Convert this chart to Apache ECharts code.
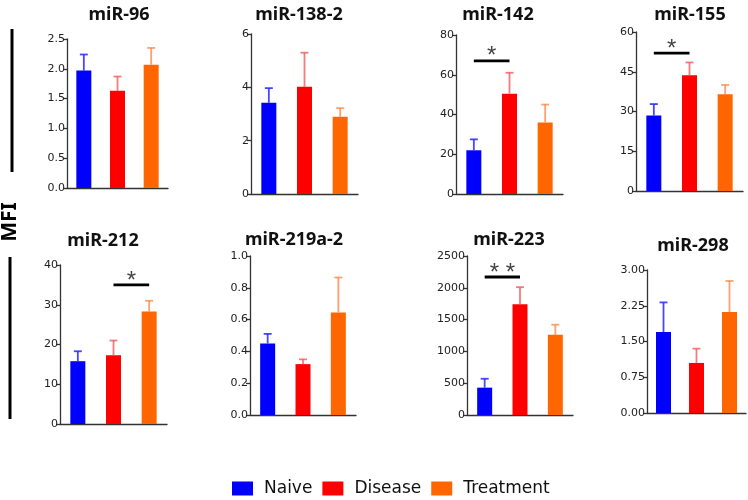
<!DOCTYPE html>
<html><head><meta charset="utf-8">
<script src="https://cdn.jsdelivr.net/npm/echarts@6/dist/echarts.min.js"></script>
<style>html,body{margin:0;padding:0;background:#fff}#c{width:748px;height:500px}</style>
</head><body><div id="c"></div>
<script>
const panels = ['miR-96','miR-138-2','miR-142','miR-155','miR-212','miR-219a-2','miR-223','miR-298'];
const groups = ['Naive','Disease','Treatment'];
const naive = [1.97, 3.42, 22, 28.5, 15.8, 0.45, 430, 1.70];
const disease = [1.63, 4.02, 50.5, 43.7, 17.3, 0.32, 1740, 1.05];
const treatment = [2.07, 2.90, 36, 36.5, 28.3, 0.645, 1260, 2.12];
const naiveErr = [2.24, 3.97, 27.5, 32.8, 18.3, 0.51, 570, 2.32];
const diseaseErr = [1.87, 5.30, 61, 48.5, 21, 0.35, 2010, 1.35];
const treatmentErr = [2.35, 3.22, 45, 40, 31, 0.865, 1420, 2.77];
const yMax = [2.5, 6, 80, 60, 40, 1.0, 2500, 3.0];
const yStep = [0.5, 2, 20, 15, 10, 0.2, 500, 0.75];
const yDecimals = [1, 0, 0, 0, 0, 1, 0, 2];
// significance brackets (panel index, from group, to group, height, label)
const sigPanel = [2, 3, 4, 6];
const sigFrom = [0, 0, 1, 0];
const sigTo = [1, 1, 2, 1];
const sigY = [67, 52, 35, 2170];
const sigText = ['*', '*', '*', '* *'];

const colors = ['#0000ff', '#ff0000', '#ff6600'];
const errColors = ['rgba(40,40,255,0.85)', 'rgba(240,80,80,0.75)', 'rgba(255,130,60,0.75)'];
const means = [naive, disease, treatment];
const errs = [naiveErr, diseaseErr, treatmentErr];

// layout (px)
const gridBox = [
  [67, 39, 101, 149], [251, 34, 107, 160], [456, 35, 107, 159], [636, 32, 107, 159],
  [60, 265, 107, 159], [250, 256, 106, 159], [467, 256, 106, 159], [647, 270, 99, 143]
];
const titlePos = [[119, 6], [299, 6], [498, 6], [690, 6], [103, 232], [294, 231], [509, 231], [693, 237]];

const grid = [], xAxis = [], yAxis = [], series = [], title = [];
panels.forEach((name, i) => {
  const b = gridBox[i];
  grid.push({left: b[0], top: b[1], width: b[2], height: b[3], containLabel: false});
  xAxis.push({type: 'category', gridIndex: i, data: groups, boundaryGap: true,
    axisLine: {lineStyle: {color: '#333', width: 1.3}}, axisTick: {show: false}, axisLabel: {show: false}});
  yAxis.push({type: 'value', gridIndex: i, min: 0, max: yMax[i], interval: yStep[i],
    splitLine: {show: false},
    axisLine: {show: true, lineStyle: {color: '#333', width: 1.3}},
    axisTick: {show: true, length: 4, lineStyle: {color: '#333', width: 1.3}},
    axisLabel: {fontSize: 11, color: '#222', fontFamily: 'DejaVu Sans', margin: 2,
      formatter: v => v.toFixed(yDecimals[i])}});
  title.push({text: name, left: titlePos[i][0], top: titlePos[i][1], textAlign: 'center', padding: 0,
    textStyle: {fontSize: 18, fontWeight: 'bold', color: '#111', fontFamily: 'Noto Sans'}});
  groups.forEach((g, k) => {
    const d = groups.map((_, j) => j === k ? means[k][i] : '-');
    series.push({type: 'bar', name: g, xAxisIndex: i, yAxisIndex: i, stack: 'p' + i,
      barWidth: 15, itemStyle: {color: colors[k]}, data: d, z: 2});
  });
  series.push({type: 'custom', xAxisIndex: i, yAxisIndex: i, z: 3,
    data: groups.map((_, k) => [k, means[k][i], errs[k][i]]),
    renderItem: (params, api) => {
      const k = api.value(0);
      const p0 = api.coord([k, api.value(1)]);
      const p1 = api.coord([k, api.value(2)]);
      const st = {stroke: errColors[k], lineWidth: 1.8};
      return {type: 'group', children: [
        {type: 'line', shape: {x1: p0[0], y1: p0[1], x2: p1[0], y2: p1[1]}, style: st},
        {type: 'line', shape: {x1: p1[0] - 4, y1: p1[1], x2: p1[0] + 4, y2: p1[1]}, style: st}
      ]};
    }});
});

sigPanel.forEach((i, s) => {
  series.push({type: 'custom', xAxisIndex: i, yAxisIndex: i, z: 4,
    data: [[sigFrom[s], sigTo[s], sigY[s]]],
    renderItem: (params, api) => {
      const a = api.coord([api.value(0), api.value(2)]);
      const b = api.coord([api.value(1), api.value(2)]);
      return {type: 'group', children: [
        {type: 'line', shape: {x1: a[0], y1: a[1], x2: b[0], y2: b[1]}, style: {stroke: '#000', lineWidth: 2.8}},
        {type: 'text', style: {text: sigText[s], x: (a[0] + b[0]) / 2, y: a[1] + 8,
          textAlign: 'center', textVerticalAlign: 'bottom', fontSize: 24, fill: '#444',
          fontFamily: 'Liberation Sans, Arial'}}
      ]};
    }});
});

const chart = echarts.init(document.getElementById('c'), null, {renderer: 'canvas'});
chart.setOption({
  backgroundColor: '#fff',
  animation: false,
  title: title,
  grid: grid, xAxis: xAxis, yAxis: yAxis, series: series,
  legend: {data: groups, left: 232, top: 480, padding: 0, icon: 'rect', itemWidth: 21, itemHeight: 14, itemGap: 10,
    textStyle: {fontSize: 17, color: '#111', fontFamily: 'DejaVu Sans', padding: [0, 0, 0, 6]}},
  graphic: [
    {type: 'line', shape: {x1: 12, y1: 29, x2: 12, y2: 172}, style: {stroke: '#000', lineWidth: 3}},
    {type: 'line', shape: {x1: 10, y1: 257, x2: 10, y2: 419}, style: {stroke: '#000', lineWidth: 3}},
    {type: 'text', x: 10, y: 222, rotation: Math.PI / 2,
      style: {text: 'MFI', fontSize: 21, fontWeight: 'bold', fill: '#000', fontFamily: 'Noto Sans',
        textAlign: 'center', textVerticalAlign: 'middle'}}
  ]
});
</script></body></html>
